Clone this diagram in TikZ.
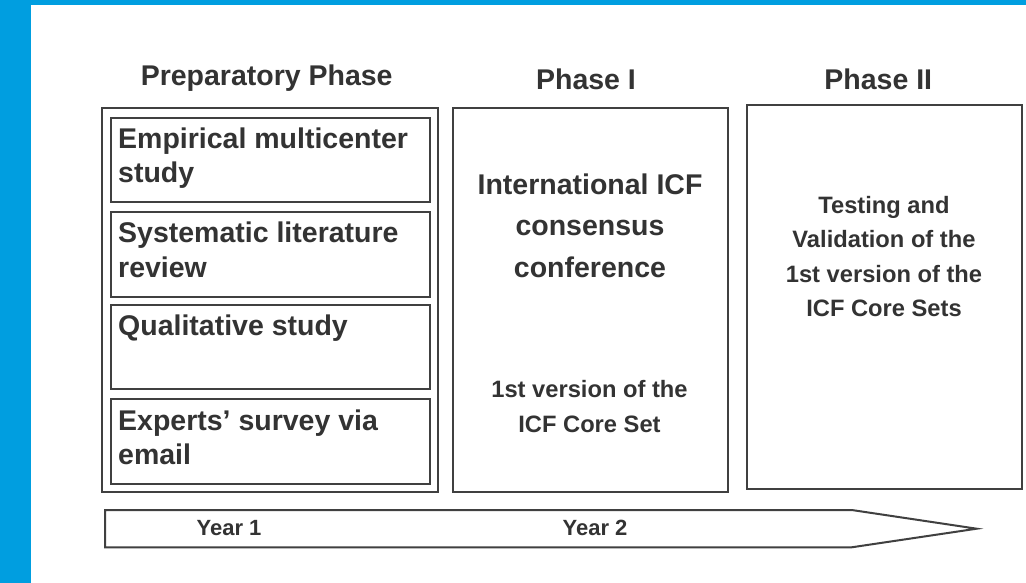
\documentclass[tikz,border=0pt]{standalone}
\usepackage{fontspec}
\setmainfont{Liberation Sans}
\definecolor{frameblue}{HTML}{009EE0}
\definecolor{txt}{HTML}{333333}
\definecolor{ln}{HTML}{404040}
\begin{document}
\begin{tikzpicture}[x=1pt,y=-1pt,
  box/.style={draw=ln, line width=2pt, rectangle, anchor=north west, inner sep=0pt},
  big/.style={text=txt, font=\bfseries\fontsize{28.5}{34.5}\selectfont, inner sep=0pt},
  wide/.style={text=txt, font=\bfseries\fontsize{28.5}{41}\selectfont, inner sep=0pt},
  small/.style={text=txt, font=\bfseries\fontsize{23.7}{35}\selectfont, inner sep=0pt},
  yr/.style={text=txt, font=\bfseries\fontsize{22}{26}\selectfont, inner sep=0pt}]
\useasboundingbox (0,0) rectangle (1026,583);
\fill[white] (0,0) rectangle (1026,583);
\fill[frameblue] (0,0) rectangle (1026,5);
\fill[frameblue] (0,0) rectangle (31,583);
% boxes
\node[box, minimum width=335.5pt, minimum height=383.7pt] (prep) at (101,107) {};
\node[box, minimum width=318.7pt, minimum height=84pt] (b1) at (110,116.7) {};
\node[box, minimum width=318.7pt, minimum height=85.3pt] (b2) at (110,210.7) {};
\node[box, minimum width=318.7pt, minimum height=84pt] (b3) at (110,304) {};
\node[box, minimum width=318.7pt, minimum height=85pt] (b4) at (110,398.3) {};
\node[box, minimum width=275.3pt, minimum height=383.7pt] (p1) at (452,107) {};
\node[box, minimum width=275pt, minimum height=384.6pt] (p2) at (746,103.7) {};
% arrow
\coordinate (a1) at (105,510);
\coordinate (a2) at (851.7,510);
\coordinate (tip) at (976.7,528.7);
\coordinate (a3) at (851.7,547.3);
\coordinate (a4) at (105,547.3);
\draw[ln, line width=2pt, line join=miter] (a1) -- (a2) -- (tip) -- (a3) -- (a4) -- cycle;
% headers
\node[big, anchor=base] (hprep) at (266.7,85.3) {Preparatory Phase};
\node[big, anchor=base] (h1) at (586,89.3) {Phase I};
\node[big, anchor=base] (h2) at (878.3,89.3) {Phase II};
% prep texts
\node[big, anchor=base west] (t1) at (118,148.3) {\begin{tabular}[t]{@{}l@{}}Empirical multicenter\\study\end{tabular}};
\node[big, anchor=base west] (t2) at (118,242.7) {\begin{tabular}[t]{@{}l@{}}Systematic literature\\review\end{tabular}};
\node[big, anchor=base west] (t3) at (118,335) {Qualitative study};
\node[big, anchor=base west] (t4) at (118,430) {\begin{tabular}[t]{@{}l@{}}Experts’ survey via\\email\end{tabular}};
% phase I texts
\node[wide, anchor=base] (t5) at (590,195) {\begin{tabular}[t]{@{}c@{}}International ICF\\consensus\\conference\end{tabular}};
\node[small, anchor=base] (t6) at (589.5,397) {\begin{tabular}[t]{@{}c@{}}1st version of the\\ICF Core Set\end{tabular}};
% phase II text
\node[small, anchor=base, font=\bfseries\fontsize{23.7}{34.5}\selectfont] (t7) at (884,213.3) {\begin{tabular}[t]{@{}c@{}}Testing and\\Validation of the\\1st version of the\\ICF Core Sets\end{tabular}};
% years
\node[yr, anchor=base] (y1) at (229,535) {Year 1};
\node[yr, anchor=base] (y2) at (595,535) {Year 2};
\end{tikzpicture}
\end{document}
